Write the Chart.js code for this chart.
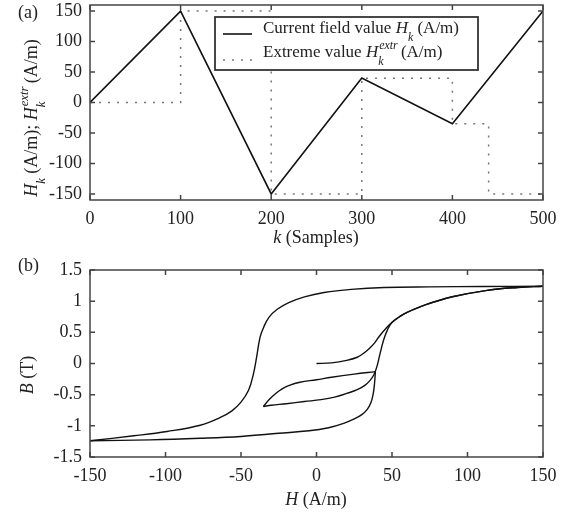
<!DOCTYPE html>
<html>
<head>
<meta charset="utf-8">
<script src="https://cdn.jsdelivr.net/npm/chart.js@4/dist/chart.umd.min.js"></script>
<style>
body{margin:0;background:#fff;}
#wrap{position:relative;width:575px;height:514px;}
canvas{position:absolute;left:0;}
#top{top:0;}
#bot{top:255px;}
</style>
</head>
<body>
<div id="wrap">
<canvas id="top" width="575" height="255"></canvas>
<canvas id="bot" width="575" height="259"></canvas>
</div>
<script>
// (a) applied field sequence and its stored extreme values
var kCurrent = [0, 100, 200, 300, 400, 500];
var hCurrent = [0, 150, -150, 40, -35, 150];
var kExtreme = [0, 100, 200, 300, 400, 440, 500];
var hExtreme = [0, 150, -150, 40, -35, -150, -150];
var kTicks = [0, 100, 200, 300, 400, 500];
var hTicksA = [-150, -100, -50, 0, 50, 100, 150];

// (b) B(H) trajectory, one pair of arrays per branch
// initial curve 0 -> 150
var h1 = [0, 10, 20, 27, 31, 35, 38.5, 42, 45.5, 50, 55, 60, 72, 90, 112, 133, 150];
var b1 = [0, 0.01, 0.05, 0.1, 0.16, 0.24, 0.33, 0.45, 0.55, 0.66, 0.75, 0.82, 0.94, 1.07, 1.17, 1.22, 1.24];
// descending 150 -> -150
var h2 = [150, 110, 75, 45, 23, 5, -8, -18, -26, -31.5, -35, -37.4, -39.6, -41.8, -45, -50, -56, -64, -77, -99, -121, -150];
var b2 = [1.24, 1.235, 1.23, 1.22, 1.19, 1.14, 1.07, 0.98, 0.87, 0.74, 0.58, 0.42, 0.11, -0.17, -0.43, -0.62, -0.76, -0.87, -0.99, -1.09, -1.16, -1.24];
// ascending -150 -> 40
var h3 = [-150, -110, -77, -50, -25, -5, 8, 18, 25, 30, 33.5, 36, 37.6, 38.5, 39];
var b3 = [-1.24, -1.225, -1.2, -1.17, -1.12, -1.08, -1.03, -0.96, -0.89, -0.82, -0.74, -0.63, -0.48, -0.3, -0.13];
// descending 40 -> -35
var h4 = [39, 25, 10, 0, -11, -18, -23, -27, -31, -35.2];
var b4 = [-0.13, -0.17, -0.22, -0.26, -0.3, -0.35, -0.41, -0.48, -0.57, -0.69];
// ascending -35 -> 150
var h5 = [-35.2, -30, -20, -8, 3, 12, 20, 27, 32, 35.5, 38, 40, 42, 44.5, 47, 50, 55, 60, 72, 90, 112, 133, 150];
var b5 = [-0.69, -0.67, -0.645, -0.61, -0.58, -0.54, -0.48, -0.42, -0.35, -0.27, -0.18, -0.05, 0.15, 0.38, 0.54, 0.66, 0.75, 0.82, 0.94, 1.07, 1.17, 1.22, 1.24];
var hTicksB = [-150, -100, -50, 0, 50, 100, 150];
var bTicks = [-1.5, -1, -0.5, 0, 0.5, 1, 1.5];

var SERIF = '"Liberation Serif", "Times New Roman", serif';
Chart.defaults.font.family = SERIF;
Chart.defaults.font.size = 18;
Chart.defaults.color = '#222';

function pts(xs, ys) {
  return xs.map(function(v, i) { return {x: v, y: ys[i]}; });
}
function setTicks(arr) {
  return function(scale) { scale.ticks = arr.map(function(v) { return {value: v}; }); };
}
function fixX(h) {
  return function(scale) { scale.height = h; scale.paddingLeft = 0; scale.paddingRight = 0; };
}
function fixY(w) {
  return function(scale) { scale.width = w; scale.paddingTop = 0; scale.paddingBottom = 0; };
}
function plain(v) { return String(v); }

// text with italic parts, subscripts and superscripts
function fontFor(p, size) {
  var s = (p.sub || p.sup) ? size * 0.7 : size;
  return (p.it ? 'italic ' : '') + s + 'px ' + SERIF;
}
function partW(ctx, p, size) {
  ctx.font = fontFor(p, size);
  var w = ctx.measureText(p.t).width;
  if (p.over) {
    ctx.font = 'italic ' + (size * 0.7) + 'px ' + SERIF;
    w = Math.max(w, ctx.measureText(p.over).width);
  }
  return w;
}
function drawRich(ctx, parts, x, y, size, align) {
  var total = 0;
  parts.forEach(function(p) { total += partW(ctx, p, size); });
  var cx = align === 'center' ? x - total / 2 : x;
  ctx.textAlign = 'left';
  ctx.textBaseline = 'alphabetic';
  parts.forEach(function(p) {
    var w = partW(ctx, p, size);
    ctx.font = fontFor(p, size);
    var dy = p.sub ? size * 0.45 : (p.sup ? -size * 0.5 : 0);
    ctx.fillText(p.t, cx, y + dy);
    if (p.over) {
      ctx.font = 'italic ' + (size * 0.7) + 'px ' + SERIF;
      ctx.fillText(p.over, cx + 1, y - size * 0.5);
    }
    cx += w;
  });
}

var framePlugin = {
  id: 'frame',
  afterDatasetsDraw: function(chart) {
    var ctx = chart.ctx, a = chart.chartArea, xs = chart.scales.x, ys = chart.scales.y;
    ctx.save();
    ctx.strokeStyle = '#444';
    ctx.lineWidth = 1.5;
    ctx.beginPath();
    xs.ticks.forEach(function(t) {
      var p = xs.getPixelForValue(t.value);
      ctx.moveTo(p, a.bottom); ctx.lineTo(p, a.bottom - 5);
      ctx.moveTo(p, a.top); ctx.lineTo(p, a.top + 5);
    });
    ys.ticks.forEach(function(t) {
      var p = ys.getPixelForValue(t.value);
      ctx.moveTo(a.left, p); ctx.lineTo(a.left + 5, p);
      ctx.moveTo(a.right, p); ctx.lineTo(a.right - 5, p);
    });
    ctx.stroke();
    ctx.strokeRect(a.left, a.top, a.right - a.left, a.bottom - a.top);
    ctx.restore();
  }
};

var topDecor = {
  id: 'topDecor',
  afterDraw: function(chart) {
    var ctx = chart.ctx;
    var ds = chart.data.datasets;
    ctx.save();
    ctx.fillStyle = '#222';
    // panel label and axis titles
    ctx.font = '18px ' + SERIF;
    ctx.textAlign = 'left';
    ctx.textBaseline = 'alphabetic';
    ctx.fillText('(a)', 18, 18);
    drawRich(ctx, [{t: 'k', it: true}, {t: ' (Samples)'}], 316, 243, 18, 'center');
    ctx.save();
    ctx.translate(37, 118);
    ctx.rotate(-Math.PI / 2);
    drawRich(ctx, [{t: 'H', it: true}, {t: 'k', it: true, sub: true}, {t: ' (A/m); '},
      {t: 'H', it: true}, {t: 'k', it: true, sub: true, over: 'extr'}, {t: ' (A/m)'}], 0, 0, 18, 'center');
    ctx.restore();
    // legend
    ctx.fillStyle = '#fff';
    ctx.fillRect(215, 17, 263, 53);
    ctx.strokeStyle = '#333';
    ctx.lineWidth = 1.8;
    ctx.strokeRect(215, 17, 263, 53);
    ctx.strokeStyle = ds[0].borderColor;
    ctx.lineWidth = ds[0].borderWidth;
    ctx.beginPath(); ctx.moveTo(223, 34); ctx.lineTo(252, 34); ctx.stroke();
    ctx.strokeStyle = ds[1].borderColor;
    ctx.lineWidth = ds[1].borderWidth;
    ctx.setLineDash(ds[1].borderDash);
    ctx.beginPath(); ctx.moveTo(223, 60); ctx.lineTo(252, 60); ctx.stroke();
    ctx.setLineDash([]);
    ctx.fillStyle = '#222';
    drawRich(ctx, [{t: 'Current field value '}, {t: 'H', it: true}, {t: 'k', it: true, sub: true}, {t: ' (A/m)'}], 263, 33, 17, 'left');
    drawRich(ctx, [{t: 'Extreme value '}, {t: 'H', it: true}, {t: 'k', it: true, sub: true, over: 'extr'}, {t: ' (A/m)'}], 263, 57, 17, 'left');
    ctx.restore();
  }
};

var botDecor = {
  id: 'botDecor',
  afterDraw: function(chart) {
    var ctx = chart.ctx;
    ctx.save();
    ctx.fillStyle = '#222';
    ctx.font = '18px ' + SERIF;
    ctx.textAlign = 'left';
    ctx.textBaseline = 'alphabetic';
    ctx.fillText('(b)', 18, 16);
    drawRich(ctx, [{t: 'H', it: true}, {t: ' (A/m)'}], 316, 250, 18, 'center');
    ctx.save();
    ctx.translate(33, 120);
    ctx.rotate(-Math.PI / 2);
    drawRich(ctx, [{t: 'B', it: true}, {t: ' (T)'}], 0, 0, 18, 'center');
    ctx.restore();
    ctx.restore();
  }
};

var axisCommon = {
  grid: {display: false, drawTicks: false},
  border: {display: false}
};

new Chart(document.getElementById('top'), {
  type: 'scatter',
  data: {
    datasets: [
      {
        label: 'Current field value',
        data: pts(kCurrent, hCurrent),
        showLine: true,
        borderColor: '#111',
        borderWidth: 1.6,
        pointRadius: 0
      },
      {
        label: 'Extreme value',
        data: pts(kExtreme, hExtreme),
        showLine: true,
        stepped: true,
        borderColor: '#777',
        borderWidth: 1.5,
        borderDash: [2, 7],
        pointRadius: 0
      }
    ]
  },
  options: {
    responsive: false,
    animation: false,
    layout: {padding: {left: 0, right: 32, top: 5, bottom: 0}},
    plugins: {legend: {display: false}, tooltip: {enabled: false}},
    scales: {
      x: Object.assign({}, axisCommon, {
        type: 'linear', min: 0, max: 500,
        afterBuildTicks: setTicks(kTicks), afterFit: fixX(55),
        ticks: {padding: 8, autoSkip: false, maxRotation: 0, callback: plain}
      }),
      y: Object.assign({}, axisCommon, {
        type: 'linear', min: -160, max: 160,
        afterBuildTicks: setTicks(hTicksA), afterFit: fixY(90),
        ticks: {padding: 8, autoSkip: false, callback: plain}
      })
    }
  },
  plugins: [framePlugin, topDecor]
});

var branches = [[h1, b1], [h2, b2], [h3, b3], [h4, b4], [h5, b5]];

new Chart(document.getElementById('bot'), {
  type: 'scatter',
  data: {
    datasets: branches.map(function(br) {
      return {
        data: pts(br[0], br[1]),
        showLine: true,
        tension: 0.4,
        borderColor: '#111',
        borderWidth: 1.4,
        pointRadius: 0
      };
    })
  },
  options: {
    responsive: false,
    animation: false,
    layout: {padding: {left: 0, right: 32, top: 15, bottom: 0}},
    plugins: {legend: {display: false}, tooltip: {enabled: false}},
    scales: {
      x: Object.assign({}, axisCommon, {
        type: 'linear', min: -150, max: 150,
        afterBuildTicks: setTicks(hTicksB), afterFit: fixX(57),
        ticks: {padding: 8, autoSkip: false, maxRotation: 0, callback: plain}
      }),
      y: Object.assign({}, axisCommon, {
        type: 'linear', min: -1.5, max: 1.5,
        afterBuildTicks: setTicks(bTicks), afterFit: fixY(90),
        ticks: {padding: 8, autoSkip: false, callback: plain}
      })
    }
  },
  plugins: [framePlugin, botDecor]
});
</script>
</body>
</html>
